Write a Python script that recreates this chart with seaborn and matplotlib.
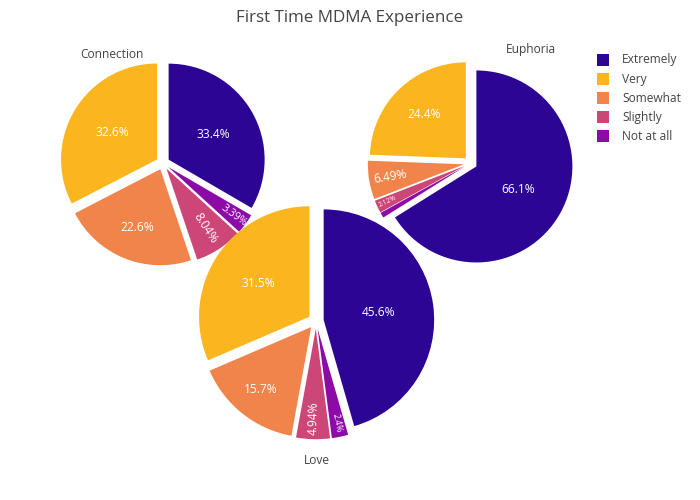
import numpy as np
import matplotlib
matplotlib.use("Agg")
import matplotlib.pyplot as plt
import seaborn as sns

# ---------------- data ----------------
categories = ["Extremely", "Very", "Somewhat", "Slightly", "Not at all"]
connection = [33.4, 32.6, 22.6, 8.04, 3.39]
euphoria = [66.1, 24.4, 6.49, 2.12, 0.89]
love = [45.6, 31.5, 15.7, 4.94, 2.4]
pie_titles = ["Connection", "Euphoria", "Love"]
colors = ["#2c0594", "#fbb61f", "#f0844a", "#cc4778", "#8c0aa5"]
title = "First Time MDMA Experience"

# ---------------- style ----------------
sns.set_theme(style="white")
plt.rcParams["font.family"] = ["Open Sans", "DejaVu Sans"]
palette = sns.color_palette(colors)

PX = 72 / 100.0  # pt per pixel at dpi 100
W, H = 700, 500
fig = plt.figure(figsize=(7, 5), dpi=100)
ax = fig.add_axes([0, 0, 1, 1])

# clockwise order from 12 o'clock as in reference
order = [0, 4, 3, 2, 1]
# layout (pixel centres, radius), pull fraction
layout = [
    (162.8, 163.0, 96.0),
    (470.5, 163.2, 96.0),
    (316.0, 321.0, 110.5),
]
pull = 0.07
title_pos = [(112, 55), (531, 50), (317, 460)]

for vals, (cx, cy, r), name, (tx, ty) in zip([connection, euphoria, love], layout, pie_titles, title_pos):
    v = [vals[i] for i in order]
    cols = [palette[i] for i in order]
    wedges, _ = ax.pie(v, colors=cols, startangle=90, counterclock=False,
                       radius=r, center=(cx, H - cy),
                       explode=[pull * r] * len(v),
                       wedgeprops=dict(linewidth=0))
    tot = sum(v)
    for w, val in zip(wedges, v):
        frac = val / tot
        if frac < 0.01:
            continue
        th = np.deg2rad((w.theta1 + w.theta2) / 2)
        if frac < 0.1:
            rf = 0.93 - 2.4 * frac
        else:
            rf = np.clip(0.9 - 1.1 * frac, 0.5, 0.9)
        rl = rf * w.r
        x = w.center[0] + rl * np.cos(th)
        y = w.center[1] + rl * np.sin(th)
        if frac < 0.1:
            ang = np.rad2deg(th)
            ang = (ang + 180) % 360 - 180
            if ang > 90:
                ang -= 180
            elif ang < -90:
                ang += 180
            fpx = min(12.0, 0.6 * np.deg2rad(w.theta2 - w.theta1) * rl)
        else:
            ang = 0
            fpx = 12.0
        ax.text(x, y, f"{val:.3g}%", ha="center", va="center", rotation=ang,
                rotation_mode="anchor", color="white", fontsize=fpx * PX)
    ax.text(tx, H - ty, name, ha="center", va="center", color="#444444",
            fontsize=12 * PX)

# legend
leg_y = [60, 79, 98, 117, 136]
for lab, col, yy in zip(categories, palette, leg_y):
    ax.scatter([603], [H - yy], marker="s", s=(12 * PX) ** 2, color=col, linewidths=0)
    ax.text(622, H - yy, lab, ha="left", va="center", color="#444444", fontsize=12 * PX)

ax.text(350, H - 18, title, ha="center", va="center", color="#444444", fontsize=17 * PX)

ax.set_xlim(0, W)
ax.set_ylim(0, H)
ax.set_aspect("auto")
ax.axis("off")
fig.savefig("out.png", dpi=100)
